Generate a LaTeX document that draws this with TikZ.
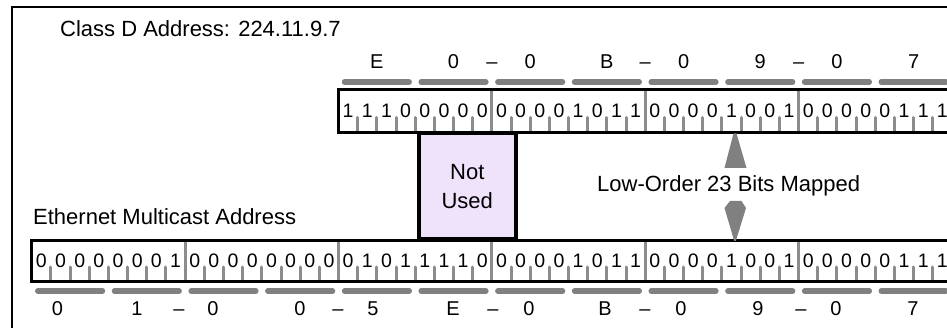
\documentclass[tikz,border=0pt]{standalone}
\usepackage{fontspec}
\setmainfont{Liberation Sans}
\definecolor{bargray}{HTML}{808080}
\definecolor{tickgray}{HTML}{8C8C8C}
\definecolor{lav}{HTML}{EFE3FB}
\begin{document}
\begin{tikzpicture}[x=1pt,y=-1pt,
  lbl/.style={inner sep=0pt, anchor=base west, font=\fontsize{22}{29}\selectfont},
  hexlbl/.style={inner sep=0pt, anchor=base, font=\fontsize{20}{24}\selectfont},
  bitlbl/.style={inner sep=0pt, anchor=base, font=\fontsize{19.5}{24}\selectfont},
  nib/.style={line width=5.5pt, line cap=round, draw=bargray},
  tk/.style={line width=3pt, line cap=round, draw=tickgray},
  bytesep/.style={line width=3pt, draw=tickgray},
  reg/.style={line width=3pt, draw=black},
  notused/.style={draw=black, line width=4pt, fill=lav, align=center,
    minimum width=96.5pt, minimum height=106.5pt, inner sep=0pt,
    font=\fontsize{22}{29}\selectfont},
  arrowfill/.style={fill=bargray}]
\useasboundingbox (0,0) rectangle (947,328);
\clip (0,0) rectangle (947,328);
\def\bw{19.17}
\def\tx{338.5}
\def\bx{31.8}
% frame
\draw[line width=2pt] (12,7) rectangle (1000,400);
% title
\node[lbl] (title) at (60,37) {Class D Address: 224.11.9.7};
% top register
\fill[white] (\tx,90) rectangle (1000,132.5);
\foreach \k in {1,...,31} {
  \pgfmathtruncatemacro\m{mod(\k,8)}
  \ifnum\m=0
    \draw[bytesep] ({\tx+\k*\bw},90) -- ({\tx+\k*\bw},132.5);
  \else
    \draw[tk] ({\tx+\k*\bw},131) -- ({\tx+\k*\bw},117.5);
  \fi
}
\foreach \b [count=\i from 0] in {1,1,1,0,0,0,0,0,0,0,0,0,1,0,1,1,0,0,0,0,1,0,0,1,0,0,0,0,0,1,1,1}
  \node[bitlbl] (t\i) at ({\tx+(\i+0.5)*\bw},118) {\b};
% top hex labels and nibble bars
\foreach \h [count=\i from 0] in {E,0,0,B,0,9,0,7} {
  \node[hexlbl] (th\i) at ({\tx+(\i+0.5)*4*\bw},68.5) {\h};
  \draw[nib] ({\tx+\i*4*\bw+6},82) -- ({\tx+(\i+1)*4*\bw-6},82);
}
\foreach \k in {1,2,3}
  \node[hexlbl] (td\k) at ({\tx+\k*8*\bw},68.5) {–};
% bottom register
\fill[white] (\bx,240.3) rectangle (1000,281.7);
\foreach \k in {1,...,47} {
  \pgfmathtruncatemacro\m{mod(\k,8)}
  \ifnum\m=0
    \draw[bytesep] ({\bx+\k*\bw},240.3) -- ({\bx+\k*\bw},281.7);
  \else
    \draw[tk] ({\bx+\k*\bw},280) -- ({\bx+\k*\bw},267);
  \fi
}
\foreach \b [count=\i from 0] in {0,0,0,0,0,0,0,1,0,0,0,0,0,0,0,0,0,1,0,1,1,1,1,0,0,0,0,0,1,0,1,1,0,0,0,0,1,0,0,1,0,0,0,0,0,1,1,1}
  \node[bitlbl] (b\i) at ({\bx+(\i+0.5)*\bw},268) {\b};
% bottom hex labels and nibble bars
\foreach \h/\xx [count=\i from 0] in {0/57.5,1/137,0/213,0/300,5/373,E/453,0/529,B/605,0/681,9/758,0/836,7/913} {
  \node[hexlbl] (bh\i) at (\xx,316) {\h};
  \draw[nib] ({\bx+\i*4*\bw+6},291) -- ({\bx+(\i+1)*4*\bw-6},291);
}
\foreach \xx [count=\k] in {179,338,493,645,801}
  \node[hexlbl] (bd\k) at (\xx,316) {–};
% not used box
\node[notused] (nu) at (467.25,186.25) {Not\\Used};
% register outlines
\draw[reg] (\tx,90) rectangle (1000,132.5);
\draw[reg] (\bx,240.3) rectangle (1000,281.7);
% labels
\node[lbl] (eth) at (33,225) {Ethernet Multicast Address};
\node[lbl] (low) at (597,191.5) {Low-Order 23 Bits Mapped};
% arrows
\coordinate (uptip) at (735,133.5);
\coordinate (downtip) at (735,241);
\fill[arrowfill] ([xshift=-1.5pt]uptip) -- ([xshift=1.5pt]uptip) -- (746.5,168) -- (724.5,168) -- cycle;
\fill[arrowfill] (730,201) -- (741.5,201) -- (746,208) -- ([xshift=0.8pt]downtip) -- ([xshift=-0.8pt]downtip) -- (724.5,208) -- cycle;
\end{tikzpicture}
\end{document}
